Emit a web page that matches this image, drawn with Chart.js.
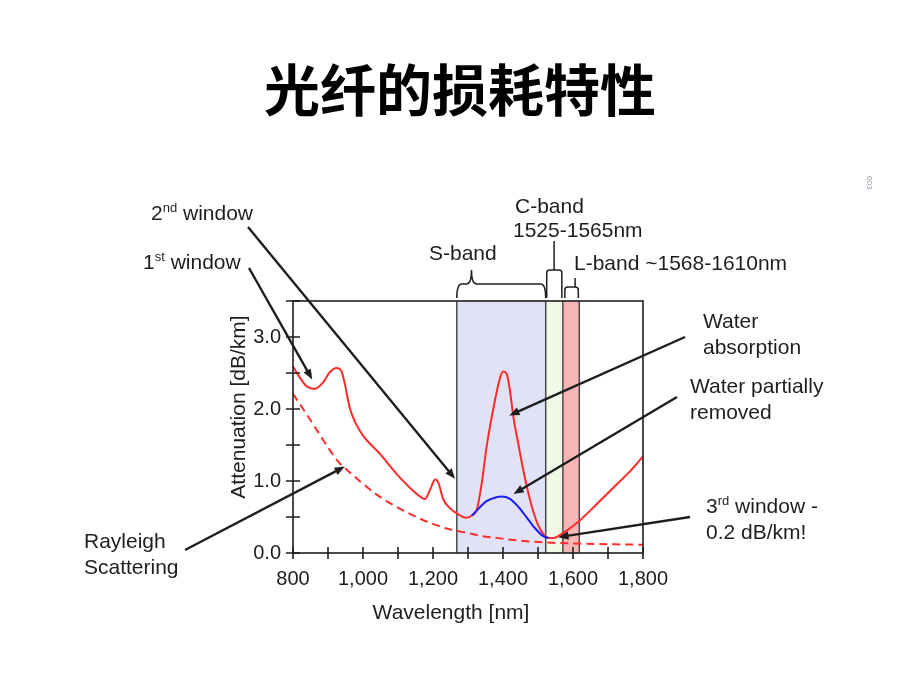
<!DOCTYPE html>
<html>
<head>
<meta charset="utf-8">
<title>光纤的损耗特性</title>
<script src="https://cdn.jsdelivr.net/npm/chart.js@4.4.1/dist/chart.umd.min.js"></script>
<style>
  html, body { margin: 0; padding: 0; background: #fff; }
  #wrap { width: 920px; height: 690px; }
</style>
</head>
<body>
<div id="wrap"><canvas id="lossChart"></canvas></div>
<script>
// total fibre loss (red)
const redWl = [800, 819, 838, 862, 886, 905, 924, 938, 948, 962, 977, 1000, 1048, 1096, 1144, 1167, 1177, 1191, 1206, 1215, 1229, 1249, 1268, 1296, 1311, 1325, 1339, 1353, 1373, 1392, 1401, 1411, 1420, 1430, 1444, 1458, 1473, 1487, 1501, 1516, 1530, 1544, 1563, 1582, 1621, 1668, 1716, 1764, 1800];
const redLoss = [2.59, 2.44, 2.32, 2.28, 2.37, 2.51, 2.57, 2.53, 2.35, 2.02, 1.82, 1.63, 1.38, 1.10, 0.86, 0.77, 0.75, 0.87, 1.02, 0.98, 0.75, 0.62, 0.55, 0.49, 0.52, 0.60, 0.96, 1.47, 2.02, 2.44, 2.52, 2.48, 2.25, 1.88, 1.51, 1.15, 0.82, 0.57, 0.38, 0.26, 0.21, 0.21, 0.25, 0.31, 0.46, 0.68, 0.91, 1.14, 1.34];

// water peak partially removed (blue)
const blueWl = [1311, 1325, 1353, 1382, 1396, 1420, 1444, 1468, 1492, 1516, 1530];
const blueLoss = [0.52, 0.59, 0.72, 0.776, 0.785, 0.753, 0.64, 0.49, 0.34, 0.23, 0.21];

// rayleigh scattering (dashed)
const rayWl = [800, 829, 857, 881, 905, 929, 953, 981, 1000, 1048, 1096, 1144, 1191, 1239, 1287, 1334, 1382, 1430, 1525, 1621, 1720, 1800];
const rayLoss = [2.21, 2.00, 1.79, 1.61, 1.43, 1.27, 1.16, 1.04, 0.96, 0.78, 0.64, 0.52, 0.42, 0.34, 0.29, 0.24, 0.21, 0.18, 0.145, 0.13, 0.12, 0.115];

// bands
const bandNames = ["S-band", "C-band", "L-band"];
const bandStart = [1268, 1522, 1571];
const bandEnd = [1522, 1571, 1618];
const bandPeak = [1310, 1546, 1606];

// labelled ticks
const xLabelTicks = [800, 1000, 1200, 1400, 1600, 1800];
const yLabelTicks = [0, 1, 2, 3];

const FONT = '"Liberation Sans", Arial, sans-serif';
const INK = "#1e1e1e";
const bandColors = ["#e2e2f7", "#f1f9e6", "#f6b6b6"];

function toPoints(xs, ys) {
  return xs.map((x, i) => ({ x, y: ys[i] }));
}

// annotation labels: text position and arrow tail in pixels, arrow tip in data units
const notes = [
  { lines: [[{ t: "2" }, { t: "nd", sup: true }, { t: " window" }]], x: 151, y: 220, tail: [248, 227], tip: [1263, 1.03] },
  { lines: [[{ t: "1" }, { t: "st", sup: true }, { t: " window" }]], x: 143, y: 269, tail: [249, 268], tip: [855, 2.41] },
  { lines: [[{ t: "Rayleigh" }], [{ t: "Scattering" }]], x: 84, y: 548, tail: [185, 550], tip: [948, 1.2] },
  { lines: [[{ t: "Water" }], [{ t: "absorption" }]], x: 703, y: 328, tail: [685, 337], tip: [1418, 1.91] },
  { lines: [[{ t: "Water partially" }], [{ t: "removed" }]], x: 690, y: 393, tail: [677, 397], tip: [1430, 0.82] },
  { lines: [[{ t: "3" }, { t: "rd", sup: true }, { t: " window -" }], [{ t: "0.2 dB/km!" }]], x: 706, y: 513, tail: [690, 517], tip: [1558, 0.22] }
];

function drawRich(ctx, parts, x, y) {
  let cx = x;
  parts.forEach((p) => {
    ctx.font = p.sup ? "13px " + FONT : "21px " + FONT;
    ctx.fillText(p.t, cx, p.sup ? y - 8 : y);
    cx += ctx.measureText(p.t).width;
  });
}

function drawArrow(ctx, x0, y0, x1, y1) {
  const ang = Math.atan2(y1 - y0, x1 - x0);
  const head = 11;
  ctx.strokeStyle = INK;
  ctx.fillStyle = INK;
  ctx.lineWidth = 2.4;
  ctx.beginPath();
  ctx.moveTo(x0, y0);
  ctx.lineTo(x1 - Math.cos(ang) * head * 0.8, y1 - Math.sin(ang) * head * 0.8);
  ctx.stroke();
  ctx.beginPath();
  ctx.moveTo(x1, y1);
  ctx.lineTo(x1 - head * Math.cos(ang - 0.38), y1 - head * Math.sin(ang - 0.38));
  ctx.lineTo(x1 - head * Math.cos(ang + 0.38), y1 - head * Math.sin(ang + 0.38));
  ctx.closePath();
  ctx.fill();
}

function drawBrace(ctx, x0, x1, xm, yb) {
  const yh = yb - 14, yt = yb - 28, r = 5;
  ctx.beginPath();
  ctx.moveTo(x0, yb);
  ctx.quadraticCurveTo(x0, yh, x0 + r, yh);
  ctx.lineTo(xm - r, yh);
  ctx.quadraticCurveTo(xm, yh, xm, yt);
  ctx.quadraticCurveTo(xm, yh, xm + r, yh);
  ctx.lineTo(x1 - r, yh);
  ctx.quadraticCurveTo(x1, yh, x1, yb);
  ctx.stroke();
}

function drawBracket(ctx, x0, x1, xs, yb, yh, ys) {
  ctx.beginPath();
  ctx.moveTo(x0, yb);
  ctx.lineTo(x0, yh + 3);
  ctx.quadraticCurveTo(x0, yh, x0 + 3, yh);
  ctx.lineTo(x1 - 3, yh);
  ctx.quadraticCurveTo(x1, yh, x1, yh + 3);
  ctx.lineTo(x1, yb);
  ctx.moveTo(xs, yh);
  ctx.lineTo(xs, ys);
  ctx.stroke();
}

const decorPlugin = {
  id: "fiberDecor",
  beforeDatasetsDraw(chart) {
    const { ctx, chartArea: a, scales: { x } } = chart;
    ctx.save();
    bandStart.forEach((s, i) => {
      const x0 = x.getPixelForValue(s);
      const x1 = x.getPixelForValue(bandEnd[i]);
      ctx.fillStyle = bandColors[i];
      ctx.fillRect(x0, a.top, x1 - x0, a.bottom - a.top);
    });
    ctx.strokeStyle = "#4a4a4a";
    ctx.lineWidth = 1.5;
    const edges = bandStart.concat([bandEnd[bandEnd.length - 1]]);
    edges.forEach((w) => {
      const px = x.getPixelForValue(w);
      ctx.beginPath();
      ctx.moveTo(px, a.top);
      ctx.lineTo(px, a.bottom);
      ctx.stroke();
    });
    ctx.restore();
  },
  afterDatasetsDraw(chart) {
    const { ctx, chartArea: a, scales: { x, y } } = chart;
    ctx.save();

    // frame and crossing ticks
    ctx.strokeStyle = INK;
    ctx.lineWidth = 1.6;
    ctx.strokeRect(a.left, a.top, a.right - a.left, a.bottom - a.top);
    ctx.beginPath();
    x.ticks.forEach((t) => {
      const px = x.getPixelForValue(t.value);
      ctx.moveTo(px, a.bottom - 6);
      ctx.lineTo(px, a.bottom + 6);
    });
    y.ticks.forEach((t) => {
      const py = y.getPixelForValue(t.value);
      ctx.moveTo(a.left - 7, py);
      ctx.lineTo(a.left + 7, py);
    });
    ctx.stroke();

    // band brackets
    ctx.lineWidth = 1.5;
    const yb = a.top - 3;
    drawBrace(ctx, x.getPixelForValue(bandStart[0]), x.getPixelForValue(bandEnd[0]), x.getPixelForValue(bandPeak[0]), yb);
    drawBracket(ctx, x.getPixelForValue(bandStart[1]) + 1, x.getPixelForValue(bandEnd[1]) - 1, x.getPixelForValue(bandPeak[1]), yb, a.top - 31, a.top - 60);
    drawBracket(ctx, x.getPixelForValue(bandStart[2]) + 2, x.getPixelForValue(bandEnd[2]) - 1, x.getPixelForValue(bandPeak[2]), yb, a.top - 14, a.top - 23);

    ctx.fillStyle = INK;
    ctx.textAlign = "left";
    ctx.textBaseline = "alphabetic";
    ctx.font = "21px " + FONT;
    ctx.fillText(bandNames[0], 429, 260);
    ctx.fillText(bandNames[1], 515, 213);
    ctx.fillText(bandStart[1] + 3 + "-1565nm", 513, 237);
    ctx.fillText(bandNames[2] + " ~1568-1610nm", 574, 270);

    // annotations
    notes.forEach((n) => {
      ctx.fillStyle = INK;
      n.lines.forEach((ln, i) => drawRich(ctx, ln, n.x, n.y + i * 26));
      drawArrow(ctx, n.tail[0], n.tail[1], x.getPixelForValue(n.tip[0]), y.getPixelForValue(n.tip[1]));
    });

    // axis titles
    ctx.fillStyle = INK;
    ctx.font = "21px " + FONT;
    ctx.textAlign = "center";
    ctx.fillText("Wavelength [nm]", 451, 619);
    ctx.save();
    ctx.translate(245, 407);
    ctx.rotate(-Math.PI / 2);
    ctx.fillText("Attenuation [dB/km]", 0, 0);
    ctx.restore();

    // slide title
    ctx.font = 'bold 56px "Noto Sans CJK SC", sans-serif';
    ctx.fillStyle = "#000";
    ctx.fillText("光纤的损耗特性", 460, 111);

    // tiny page mark
    ctx.save();
    ctx.translate(867, 176);
    ctx.rotate(Math.PI / 2);
    ctx.textAlign = "left";
    ctx.font = "8px " + FONT;
    ctx.fillStyle = "#9a8ca6";
    ctx.fillText("003", 0, 0);
    ctx.restore();

    ctx.restore();
  }
};

document.addEventListener("DOMContentLoaded", () => {
  new Chart(document.getElementById("lossChart"), {
    type: "line",
    data: {
      datasets: [
        {
          label: "Water partially removed",
          data: toPoints(blueWl, blueLoss),
          borderColor: "#1a1aff",
          borderWidth: 2,
          pointRadius: 0,
          cubicInterpolationMode: "monotone"
        },
        {
          label: "Total loss",
          data: toPoints(redWl, redLoss),
          borderColor: "#ff2b2b",
          borderWidth: 2,
          pointRadius: 0,
          cubicInterpolationMode: "monotone"
        },
        {
          label: "Rayleigh Scattering",
          data: toPoints(rayWl, rayLoss),
          borderColor: "#ff2b2b",
          borderWidth: 2,
          borderDash: [8, 5],
          pointRadius: 0,
          cubicInterpolationMode: "monotone"
        }
      ]
    },
    options: {
      responsive: true,
      maintainAspectRatio: false,
      animation: false,
      devicePixelRatio: 1,
      layout: {
        padding: { left: 213, right: 277, top: 301, bottom: 77 }
      },
      plugins: {
        legend: { display: false },
        tooltip: { enabled: false }
      },
      scales: {
        x: {
          type: "linear",
          min: 800,
          max: 1800,
          grid: { display: false, drawTicks: false },
          border: { display: false },
          ticks: {
            stepSize: 100,
            autoSkip: false,
            maxRotation: 0,
            padding: 14,
            color: INK,
            font: { family: FONT, size: 20 },
            callback: (v) => (xLabelTicks.includes(v) ? v.toLocaleString("en-US") : "")
          },
          afterFit: (s) => { s.height = 60; }
        },
        y: {
          min: 0,
          max: 3.5,
          grid: { display: false, drawTicks: false },
          border: { display: false },
          ticks: {
            stepSize: 0.5,
            padding: 12,
            color: INK,
            font: { family: FONT, size: 20 },
            callback: (v) => (yLabelTicks.includes(v) ? v.toFixed(1) : "")
          },
          afterFit: (s) => { s.width = 80; }
        }
      }
    },
    plugins: [decorPlugin]
  });
});
</script>
</body>
</html>
